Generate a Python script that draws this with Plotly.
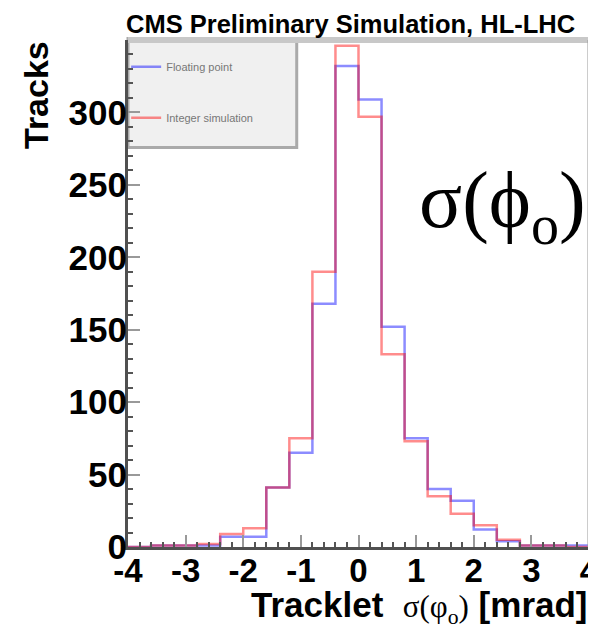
import plotly.graph_objects as go

# ---- data ----
bin_edges = [-4.0, -3.6, -3.2, -2.8, -2.4, -2.0, -1.6, -1.2, -0.8, -0.4, 0.0,
             0.4, 0.8, 1.2, 1.6, 2.0, 2.4, 2.8, 3.2, 3.6, 4.0]
floating_point = [0, 1, 1, 1, 7, 7, 41, 65, 168, 332, 309, 152, 75, 40, 32, 12, 4, 1, 1, 1]
integer_sim = [0, 1, 1, 2, 9, 13, 41, 75, 190, 346, 297, 133, 73, 35, 23, 15, 5, 1, 1, 0]
x_ticks = [-4, -3, -2, -1, 0, 1, 2, 3, 4]
y_ticks = [0, 50, 100, 150, 200, 250, 300]

def step_y(vals):
    return list(vals) + [vals[-1]]

fig = go.Figure()
fig.add_trace(go.Scatter(
    x=bin_edges, y=step_y(floating_point), mode="lines", line_shape="hv",
    line=dict(color="rgba(0,0,255,0.45)", width=2.5),
    name="Floating point", legendgroup="a"))
fig.add_trace(go.Scatter(
    x=bin_edges, y=step_y(integer_sim), mode="lines", line_shape="hv",
    line=dict(color="rgba(255,0,0,0.45)", width=2.5),
    name="Integer simulation", legendgroup="b"))

FONT = "Liberation Sans"
SERIF = "Liberation Serif"

fig.update_layout(
    width=596, height=634,
    # page has an 8px body margin; margins compensate for it
    margin=dict(l=120, r=15, t=32, b=95, autoexpand=False),
    paper_bgcolor="white", plot_bgcolor="white",
    showlegend=True,
    legend=dict(x=-0.004, y=0.976, xanchor="left", yanchor="top",
                bgcolor="rgba(0,0,0,0)", borderwidth=0,
                font=dict(family=FONT, size=11, color="#777"),
                tracegroupgap=32, traceorder="grouped"),
    xaxis=dict(range=[-4, 4], tickvals=x_ticks, ticktext=[str(v) for v in x_ticks],
               ticks="inside", ticklen=12, tickwidth=2, tickcolor="#999",
               minor=dict(dtick=0.2, ticks="inside", ticklen=5, tickcolor="#555", tickwidth=1.5),
               showline=True, linecolor="#505050", linewidth=3,
               showgrid=False, zeroline=False, automargin=False,
               ticklabeloverflow="allow",
               tickfont=dict(family=FONT, size=33, color="black", weight="bold"),
               ticklabelstandoff=-8),
    yaxis=dict(range=[0, 350], tickvals=y_ticks, ticktext=[str(v) for v in y_ticks],
               ticks="inside", ticklen=12, tickwidth=2, tickcolor="#999",
               minor=dict(dtick=10, ticks="inside", ticklen=5, tickcolor="#555", tickwidth=1.5),
               showline=True, linecolor="#505050", linewidth=3,
               showgrid=False, zeroline=False, automargin=False,
               ticklabeloverflow="allow",
               tickfont=dict(family=FONT, size=35, color="black", weight="bold"),
               ticklabelstandoff=-9),
    shapes=[
        dict(type="line", xref="paper", yref="paper", x0=0, x1=1, y0=1, y1=1,
             line=dict(color="#c8c8c8", width=6)),
        dict(type="line", xref="paper", yref="paper", x0=1, x1=1, y0=0, y1=1,
             line=dict(color="#999999", width=3)),
        dict(type="rect", xref="paper", yref="paper", x0=0, x1=0.366, y0=0.788, y1=1.003,
             fillcolor="#f0f0f0", line=dict(color="#aaaaaa", width=3), layer="below"),
    ],
    annotations=[
        dict(text="<b>CMS Preliminary Simulation, HL-LHC</b>", xref="paper", yref="paper",
             x=0, y=1, xanchor="left", yanchor="middle", xshift=-4, yshift=16,
             showarrow=False, font=dict(family=FONT, size=25.5, color="black")),
        dict(text="<b>Tracks</b>", xref="paper", yref="paper", textangle=-90,
             x=0, y=1, xanchor="center", yanchor="top", xshift=-92, yshift=1,
             showarrow=False, font=dict(family=FONT, size=34, color="black")),
        dict(text="<b>Tracklet</b>  <span style='font-family:Liberation Serif;font-size:31px'>σ(φ<sub>o</sub>)</span> <b>[mrad]</b>",
             xref="paper", yref="paper",
             x=0, y=0, xanchor="left", yanchor="top", xshift=121, yshift=-36,
             showarrow=False, font=dict(family=FONT, size=35, color="black")),
        dict(text="σ(ϕ<sub>o</sub>)", xref="paper", yref="paper",
             x=1, y=1, xanchor="right", yanchor="middle", xshift=-1, yshift=-166,
             showarrow=False, font=dict(family=SERIF, size=80, color="black")),
    ],
)

fig.write_html("out.html")
